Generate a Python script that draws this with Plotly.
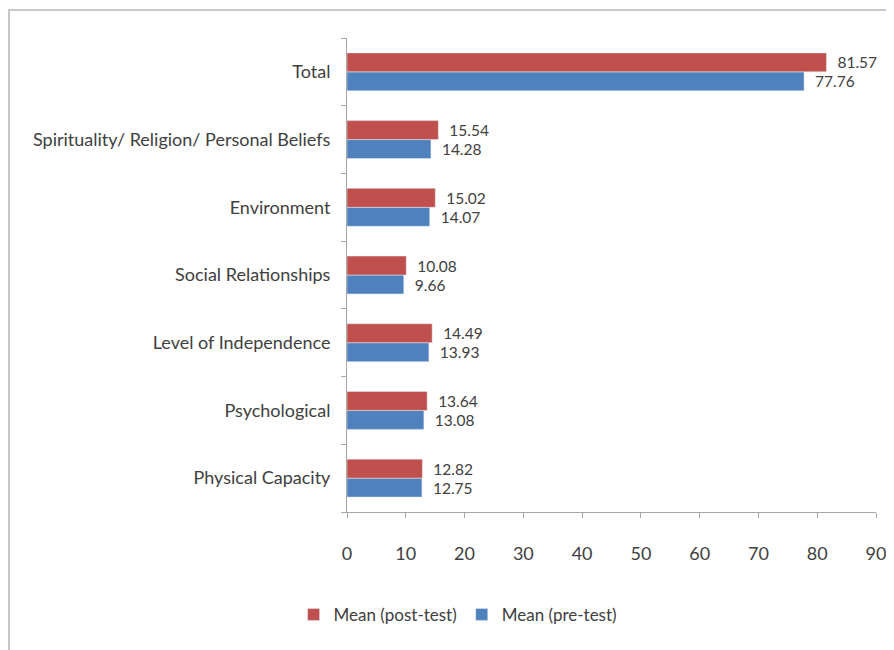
import plotly.graph_objects as go

categories = ['Physical Capacity', 'Psychological', 'Level of Independence',
              'Social Relationships', 'Environment',
              'Spirituality/ Religion/ Personal Beliefs', 'Total']
post_test = [12.82, 13.64, 14.49, 10.08, 15.02, 15.54, 81.57]
pre_test = [12.75, 13.08, 13.93, 9.66, 14.07, 14.28, 77.76]
x_ticks = [0, 10, 20, 30, 40, 50, 60, 70, 80, 90]

font_family = 'Lato, sans-serif'
pad = '\u00a0\u00a0'

fig = go.Figure()

# pre-test first so it sits below the post-test bar in each group
fig.add_trace(go.Bar(
    y=categories, x=pre_test, orientation='h', name='Mean (pre-test)',
    marker=dict(color='#4F81BD'),
    text=[pad + '%.2f' % v for v in pre_test], textposition='outside',
    textfont=dict(size=18, color='#404040', family=font_family),
    cliponaxis=False
))
fig.add_trace(go.Bar(
    y=categories, x=post_test, orientation='h', name='Mean (post-test)',
    marker=dict(color='#C0504D'),
    text=[pad + '%.2f' % v for v in post_test], textposition='outside',
    textfont=dict(size=18, color='#404040', family=font_family),
    cliponaxis=False
))

# page body adds 8px offset, margins compensate
fig.update_layout(
    width=894, height=650,
    margin=dict(l=339, r=26, t=30, b=146),
    paper_bgcolor='white', plot_bgcolor='white',
    barmode='group', bargap=0.44, bargroupgap=0,
    font=dict(family=font_family, size=18, color='#404040'),
    showlegend=True,
    legend=dict(orientation='h', x=0.21, xanchor='center', y=-0.217, yanchor='middle',
                traceorder='reversed', font=dict(size=17), itemwidth=30),
    xaxis=dict(range=[0, 90], tickvals=x_ticks, showgrid=False, zeroline=False,
               showline=True, linecolor='#A6A6A6', linewidth=1,
               ticks='outside', ticklen=5, tickcolor='#A6A6A6',
               ticklabelstandoff=20),
    yaxis=dict(showgrid=False, showline=True, linecolor='#A6A6A6', linewidth=1,
               ticks='outside', ticklen=5, tickcolor='#A6A6A6',
               tickson='boundaries', ticklabelstandoff=12),
    shapes=[dict(type='rect', xref='paper', yref='paper',
                 x0=-0.639, x1=1.2, y0=-0.5, y1=1.059,
                 line=dict(color='#C8C8C8', width=2), layer='below')]
)

fig.write_html('out.html')
